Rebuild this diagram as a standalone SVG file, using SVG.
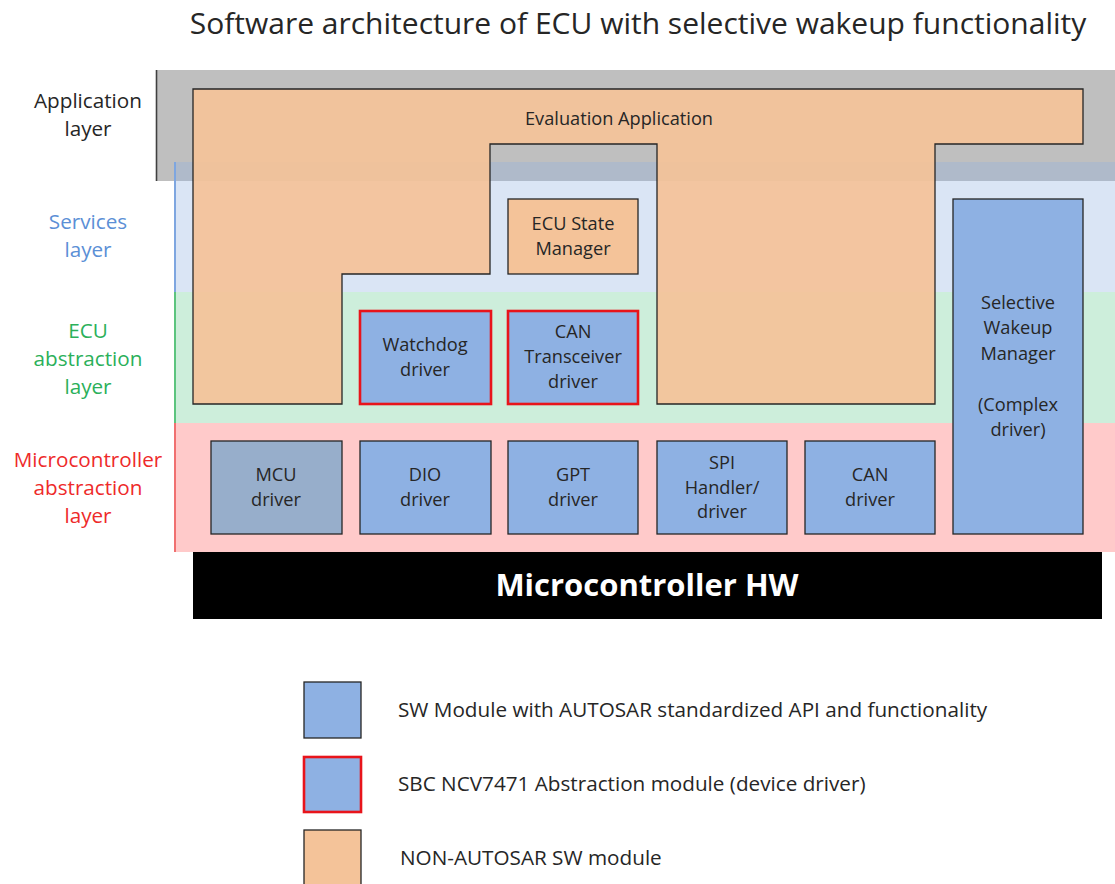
<svg xmlns="http://www.w3.org/2000/svg" width="1115" height="884" viewBox="0 0 1115 884">
<style>
text{font-family:"Open Sans","Noto Sans",sans-serif;fill:#262626;text-anchor:middle}
.lbl{font-size:20.7px}
.nt{font-size:18.2px}
.std{fill:#8EB1E3;stroke:#262626;stroke-width:1.3}
.sbc{fill:#8EB1E3;stroke:#E8141B;stroke-width:2.6}
.non{fill:#F4C399;stroke:#262626;stroke-width:1.3}
.leg{font-size:20.7px;text-anchor:start}
</style>
<rect width="1115" height="884" fill="#ffffff"/>
<text x="638" y="34" style="font-size:30px">Software architecture of ECU with selective wakeup functionality</text>
<g id="layers">
<rect x="156" y="70" width="959" height="111" fill="#BFBFBF"/>
<rect x="175" y="162" width="940" height="130" fill="#8FB0E0" fill-opacity="0.33"/>
<rect x="175" y="292" width="940" height="131" fill="#CDEEDB"/>
<rect x="175" y="423" width="940" height="129" fill="#FFCACA"/>
<line x1="156.5" y1="70" x2="156.5" y2="181" stroke="#404040" stroke-width="1.6"/>
<line x1="175" y1="162" x2="175" y2="292" stroke="#7EA6E0" stroke-width="2"/>
<line x1="175" y1="292" x2="175" y2="423" stroke="#5CC47E" stroke-width="2"/>
<line x1="175" y1="423" x2="175" y2="552" stroke="#F07070" stroke-width="2"/>
<text class="lbl" x="88" y="108">Application</text>
<text class="lbl" x="88" y="136">layer</text>
<text class="lbl" x="88" y="229" style="fill:#5B8FD6">Services</text>
<text class="lbl" x="88" y="257" style="fill:#5B8FD6">layer</text>
<text class="lbl" x="88" y="338" style="fill:#2BB05A">ECU</text>
<text class="lbl" x="88" y="366" style="fill:#2BB05A">abstraction</text>
<text class="lbl" x="88" y="394" style="fill:#2BB05A">layer</text>
<text class="lbl" x="88" y="467" style="fill:#EE2A2A">Microcontroller</text>
<text class="lbl" x="88" y="495" style="fill:#EE2A2A">abstraction</text>
<text class="lbl" x="88" y="523" style="fill:#EE2A2A">layer</text>
</g>
<g id="connectors"></g>
<g id="evaluation-application">
<path d="M193,89 H1083 V144 H935 V404 H657 V144 H490 V274 H342 V404 H193 Z" fill="#F4C399" fill-opacity="0.93" stroke="#262626" stroke-width="1.3"/>
<text class="nt" x="619" y="125">Evaluation Application</text>
</g>
<g id="ecu-state-manager">
<rect class="non" x="508" y="199" width="130" height="75"/>
<text class="nt" x="573" y="230">ECU State</text>
<text class="nt" x="573" y="255">Manager</text>
</g>
<g id="watchdog-driver">
<rect class="sbc" x="360" y="311" width="131" height="93"/>
<text class="nt" x="425" y="351">Watchdog</text>
<text class="nt" x="425" y="376">driver</text>
</g>
<g id="can-transceiver-driver">
<rect class="sbc" x="508" y="311" width="130" height="93"/>
<text class="nt" x="573" y="338">CAN</text>
<text class="nt" x="573" y="363">Transceiver</text>
<text class="nt" x="573" y="388">driver</text>
</g>
<g id="selective-wakeup-manager">
<rect class="std" x="953" y="199" width="130" height="335"/>
<text class="nt" x="1018" y="309">Selective</text>
<text class="nt" x="1018" y="334">Wakeup</text>
<text class="nt" x="1018" y="360">Manager</text>
<text class="nt" x="1018" y="411">(Complex</text>
<text class="nt" x="1018" y="436">driver)</text>
</g>
<g id="mcu-driver">
<rect x="211" y="441" width="131" height="93" fill="#97AECB" stroke="#262626" stroke-width="1.3"/>
<text class="nt" x="276" y="481">MCU</text>
<text class="nt" x="276" y="506">driver</text>
</g>
<g id="dio-driver">
<rect class="std" x="360" y="441" width="131" height="93"/>
<text class="nt" x="425" y="481">DIO</text>
<text class="nt" x="425" y="506">driver</text>
</g>
<g id="gpt-driver">
<rect class="std" x="508" y="441" width="130" height="93"/>
<text class="nt" x="573" y="481">GPT</text>
<text class="nt" x="573" y="506">driver</text>
</g>
<g id="spi-handler-driver">
<rect class="std" x="657" y="441" width="130" height="93"/>
<text class="nt" x="722" y="469">SPI</text>
<text class="nt" x="722" y="494">Handler/</text>
<text class="nt" x="722" y="518">driver</text>
</g>
<g id="can-driver">
<rect class="std" x="805" y="441" width="130" height="93"/>
<text class="nt" x="870" y="481">CAN</text>
<text class="nt" x="870" y="506">driver</text>
</g>
<g id="microcontroller-hw">
<rect x="193" y="552" width="909" height="67" fill="#000000"/>
<text x="647" y="596" style="font-size:31px;font-weight:bold;fill:#ffffff">Microcontroller HW</text>
</g>
<g id="legend">
<rect class="std" x="304" y="682" width="57" height="56"/>
<text class="leg" x="398" y="717">SW Module with AUTOSAR standardized API and functionality</text>
<rect class="sbc" x="304" y="757" width="57" height="55"/>
<text class="leg" x="398" y="791">SBC NCV7471 Abstraction module (device driver)</text>
<rect class="non" x="304" y="830" width="57" height="56"/>
<text class="leg" x="400" y="865">NON-AUTOSAR SW module</text>
</g>
</svg>
